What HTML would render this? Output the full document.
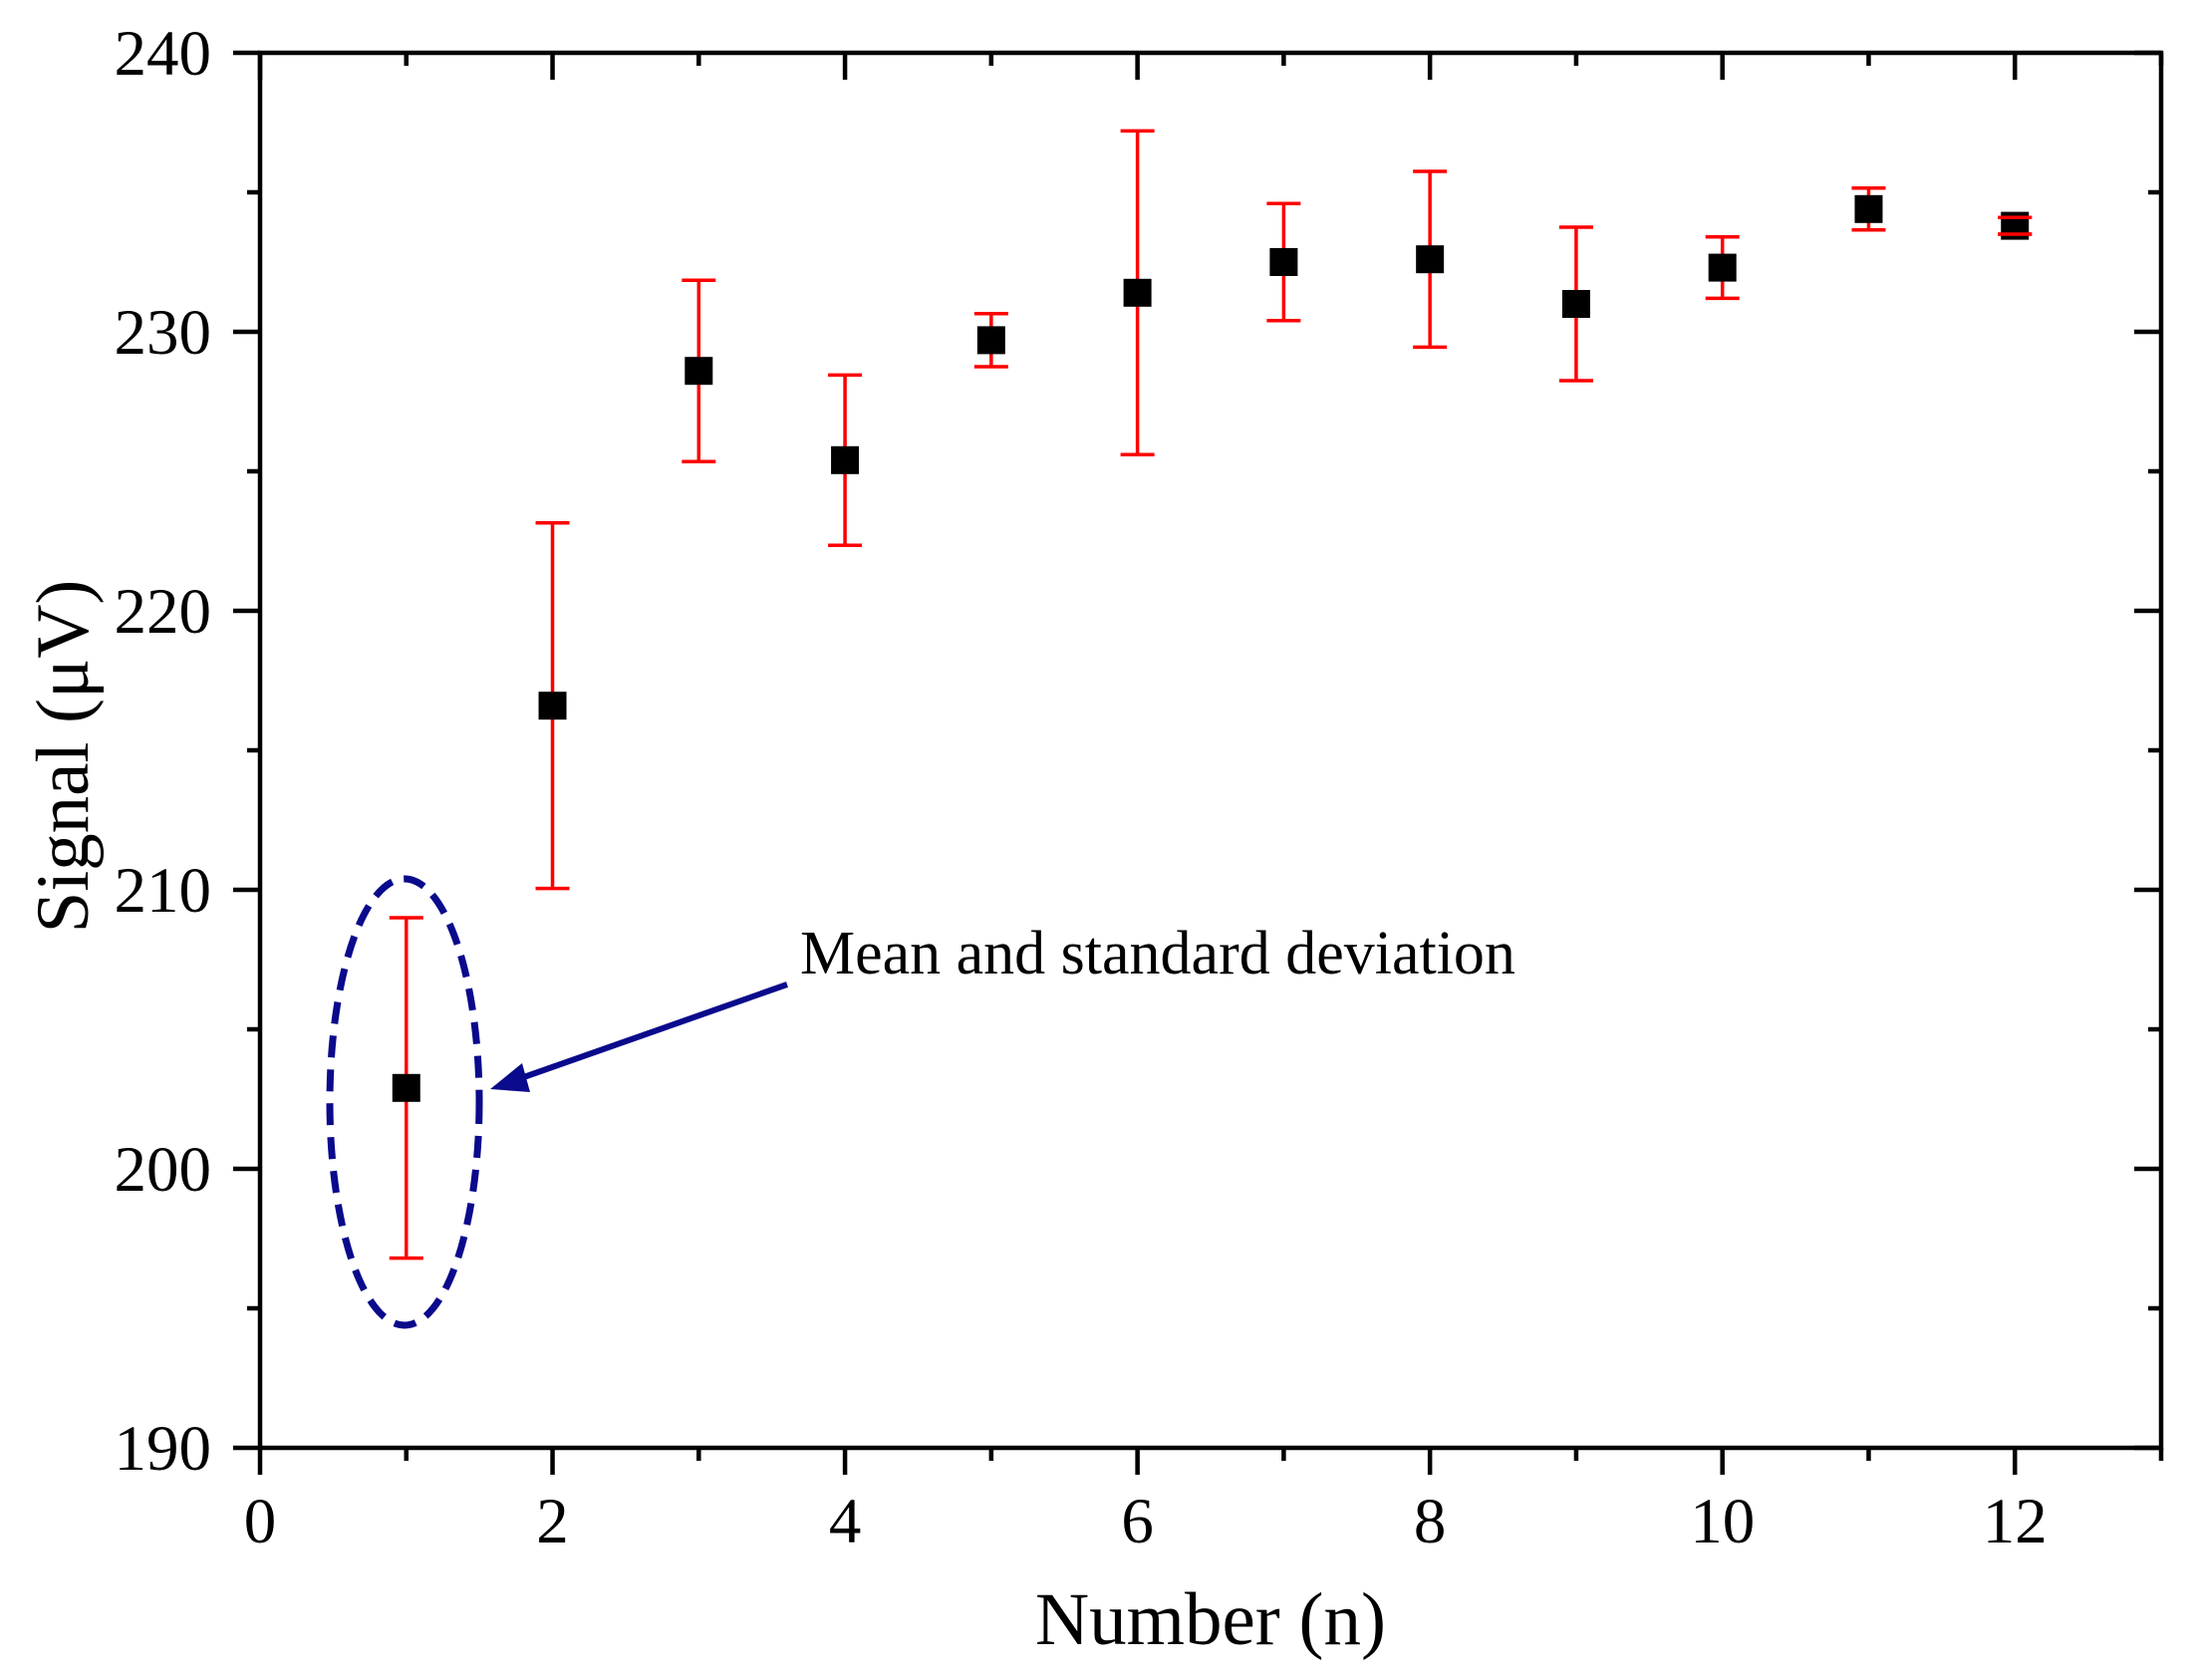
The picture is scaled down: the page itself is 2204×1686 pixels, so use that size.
<!DOCTYPE html>
<html><head><meta charset="utf-8"><style>
html,body{margin:0;padding:0;background:#fff}
svg{display:block;font-family:"Liberation Serif",serif}
</style></head><body>
<svg id="chart" width="2204" height="1686" viewBox="0 0 2204 1686" xmlns="http://www.w3.org/2000/svg">
<g id="axes"></g>
<g id="marks"></g>
<g>
<ellipse cx="406" cy="1106" rx="75" ry="224" fill="none" stroke="#0a0a8c" stroke-width="7" stroke-dasharray="22,12"/>
<line x1="790" y1="988" x2="520" y2="1083" stroke="#0a0a8c" stroke-width="6"/>
<polygon points="492,1093 524,1067 532,1096" fill="#0a0a8c"/>
<text x="803" y="977" font-size="62">Mean and standard deviation</text>
</g>
<text x="1215" y="1650" font-size="75" text-anchor="middle">Number (n)</text>
<text transform="translate(88,759) rotate(-90)" font-size="75" text-anchor="middle">Signal (μV)</text>
</svg>
<script>
const categories=[1,2,3,4,5,6,7,8,9,10,11,12];
const meanValues=[202.9,216.6,228.6,225.4,229.7,231.4,232.5,232.6,231.0,232.3,234.4,233.8];
const sdValues=[6.1,6.55,3.25,3.05,0.95,5.8,2.1,3.15,2.75,1.1,0.75,0.3];
const xTicks=[0,2,4,6,8,10,12];
const yTicks=[190,200,210,220,230,240];
const NS="http://www.w3.org/2000/svg";
const L=261,R=2169,T=53,B=1453;
const X0=0,X1=13,Y0=190,Y1=240;
function sx(v){return L+(v-X0)/(X1-X0)*(R-L);}
function sy(v){return B-(v-Y0)/(Y1-Y0)*(B-T);}
function mk(tag,attrs,parent){const e=document.createElementNS(NS,tag);for(const k in attrs)e.setAttribute(k,attrs[k]);parent.appendChild(e);return e;}
const ax=document.getElementById('axes');
const frame=mk('rect',{x:L,y:T,width:R-L,height:B-T,fill:'none',stroke:'#000','stroke-width':4.5},ax);


for(let v=0;v<=13;v++){
  const major=v%2===0;const x=sx(v);const len=major?27:13;
  const t1=mk('line',{x1:x,y1:B,x2:x,y2:B+len,stroke:'#000','stroke-width':4.5},ax);
  
  
  const t2=mk('line',{x1:x,y1:T,x2:x,y2:T+len,stroke:'#000','stroke-width':4.5},ax);
  
  
}
xTicks.forEach(v=>{
  const t=mk('text',{x:sx(v),y:1548,'font-size':65,'text-anchor':'middle'},ax);t.textContent=v;
  
  
});
for(let v=190;v<=240;v+=5){
  const major=v%10===0;const y=sy(v);const len=major?27:13;
  const t1=mk('line',{x1:L-len,y1:y,x2:L,y2:y,stroke:'#000','stroke-width':4.5},ax);
  
  
  const t2=mk('line',{x1:R-len,y1:y,x2:R,y2:y,stroke:'#000','stroke-width':4.5},ax);
  
  
}
yTicks.forEach(v=>{
  const t=mk('text',{x:212,y:sy(v)+22,'font-size':65,'text-anchor':'end'},ax);t.textContent=v;
  
  
});
const mg=document.getElementById('marks');
categories.forEach((c,i)=>{
  const x=sx(c),m=meanValues[i],s=sdValues[i];
  const yt=sy(m+s),yb=sy(m-s);
  const g=mk('g',{},mg);
  
  
  const el=mk('line',{x1:x,y1:yt,x2:x,y2:yb,stroke:'#ff0000','stroke-width':3.5},g);
  
  
  const c1=mk('line',{x1:x-17,y1:yt,x2:x+17,y2:yt,stroke:'#ff0000','stroke-width':3.5},g);
  
  
  const c2=mk('line',{x1:x-17,y1:yb,x2:x+17,y2:yb,stroke:'#ff0000','stroke-width':3.5},g);
  
  
  const sq=mk('rect',{x:x-14,y:sy(m)-14,width:28,height:28,fill:'#000'},g);
  
  
  if(s<0.6){
    const a=mk('line',{x1:x-17,y1:yt,x2:x+17,y2:yt,stroke:'#ff0000','stroke-width':3.5},g);
    
    
    const b=mk('line',{x1:x-17,y1:yb,x2:x+17,y2:yb,stroke:'#ff0000','stroke-width':3.5},g);
    
    
  }
});
</script>
</body></html>
